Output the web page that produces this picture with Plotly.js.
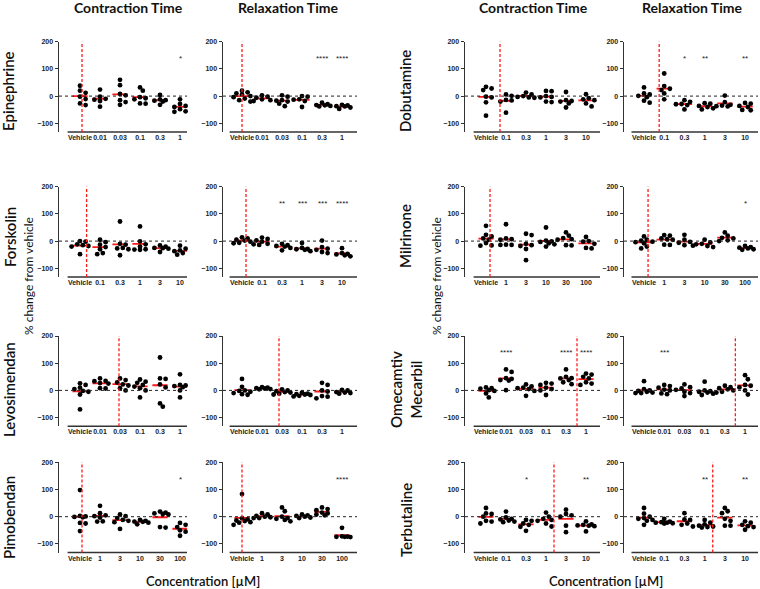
<!DOCTYPE html>
<html><head><meta charset="utf-8">
<script src="https://cdn.plot.ly/plotly-3.0.1.min.js"></script>
<style>html,body{margin:0;padding:0;background:#fff;}#chart{width:760px;height:589px;}</style>
</head><body><div id="chart"></div>
<script>
// ---------- categories (concentration, µM) ----------
const epiConc = ['Vehicle','0.01','0.03','0.1','0.3','1'];
const forConc = ['Vehicle','0.1','0.3','1','3','10'];
const levConc = ['Vehicle','0.01','0.03','0.1','0.3','1'];
const pimConc = ['Vehicle','1','3','10','30','100'];
const dobConc = ['Vehicle','0.1','0.3','1','3','10'];
const milConc = ['Vehicle','1','3','10','30','100'];
const omeConc = ['Vehicle','0.01','0.03','0.1','0.3','1'];
const terConc = ['Vehicle','0.1','0.3','1','3','10'];

// ---------- % change from vehicle, per concentration ----------
const epiCT = [[38,20,12,-2,-11,-27,-33],[24,-2,-10,-13,-18,-39],[60,40,8,3,-15,-22,-32],[32,20,-4,-8,-12,-27,-28],[4,-12,-15,-17,-20,-32],[-12,-29,-36,-40,-48,-56,-58]];
const epiRT = [[20,14,10,6,0,-4,-9,-15,-20],[3,-2,-6,-12,-15,-18],[3,-2,-15,-17,-20,-28,-37],[0,-2,-12,-13,-18,-40],[-24,-30,-33,-34,-36,-38],[-32,-34,-37,-38,-42,-47]];
const forCT = [[0,-2,-12,-15,-18,-20,-48],[5,-4,-13,-22,-30,-44,-48],[72,-10,-13,-25,-27,-30,-52],[54,-1,-12,-20,-30,-31,-32],[-16,-20,-25,-26,-28,-40],[-17,-28,-34,-37,-40,-44,-50]];
const forRT = [[14,10,5,2,-2,-6,-8],[13,8,3,-2,-10,-12,-14],[-10,-15,-18,-20,-25,-34],[-7,-25,-29,-30,-32,-37],[2,-22,-28,-32,-40,-44],[-26,-44,-47,-49,-52,-56]];
const levCT = [[26,20,10,5,-2,-5,-15,-70],[44,35,34,27,25,8,7],[44,38,29,22,18,8,0],[40,32,28,20,14,8,0,-26],[121,44,42,22,11,-48,-60],[59,20,18,16,12,0,-26]];
const levRT = [[42,13,0,-2,-5,-10,-14,-16],[12,10,8,7,5,4],[4,0,-3,-6,-8,-12,-15],[-8,-12,-14,-15,-17,-20,-22],[28,20,0,-4,-21,-23,-29],[2,0,-6,-8,-10,-12]];
const pimCT = [[98,3,1,-1,-2,-23,-25,-53],[40,13,5,2,-3,-17,-18],[8,2,-5,-12,-15,-20,-45],[-12,-15,-18,-19,-22,-28],[19,15,12,10,8,-38,-40],[-23,-30,-38,-50,-55,-70]];
const pimRT = [[83,-6,-10,-14,-16,-20,-22,-30],[13,8,3,0,-2,-5,-5],[34,20,0,-5,-8,-12,-17],[8,5,3,0,-3,-5],[34,28,24,15,12,8,5],[-41,-72,-73,-74,-74,-75]];
const dobCT = [[34,28,22,-2,-5,-23,-72],[6,1,-14,-16,-20,-61],[13,6,0,-3,-5,-6],[19,18,0,-3,-5,-20,-22],[15,-15,-18,-20,-27,-42],[7,-8,-12,-15,-27,-38]];
const dobRT = [[32,10,6,1,-4,-17,-24],[83,37,27,22,10,-12],[-15,-21,-29,-30,-33,-49],[-26,-28,-36,-40,-45,-49],[2,-22,-32,-35,-37,-38],[-25,-28,-36,-40,-51,-52]];
const milCT = [[56,23,17,10,5,-7,-16,-17],[62,10,7,5,-13,-14,-14],[27,22,-10,-15,-18,-29,-70],[50,2,-1,-3,-8,-12,-20],[32,20,11,7,5,-15,-16],[15,0,-2,-10,-25,-27]];
const milRT = [[17,5,2,-2,-4,-8,-20,-27],[22,20,10,7,5,-13,-14],[23,5,-3,-6,-15,-17],[5,-5,-10,-12,-18,-22],[32,20,12,10,3,0],[-18,-22,-24,-27,-30,-32]];
const omeCT = [[11,8,6,1,-2,-11,-26],[77,68,45,42,38,36,1],[22,15,10,8,5,-2,-20],[28,25,20,10,5,0,-17],[77,50,45,44,38,30,23],[62,58,50,44,30,25,20]];
const omeRT = [[34,5,0,-2,-5,-8,-10,-10],[20,16,10,3,0,-11,-14],[22,12,7,2,-5,-10,-21],[32,0,-3,-5,-8,-12,-17],[17,12,8,4,0,-5,-8],[56,41,20,17,11,0,-15]];
const terCT = [[32,12,10,0,-15,-18,-25],[19,-3,-8,-10,-14,-18,-20],[-12,-15,-25,-30,-37,-52],[15,0,-8,-12,-15,-25,-36],[26,10,5,0,-33,-57],[-17,-28,-30,-32,-33,-35,-54]];
const terRT = [[32,11,0,-5,-8,-12,-15,-30],[-8,-18,-20,-22,-22,-24,-25],[13,-10,-12,-25,-30,-36],[-12,-22,-28,-33,-36,-38,-40],[32,20,13,-8,-15,-33,-33],[-17,-22,-30,-35,-38,-48]];

// ---------- significance marks ----------
const epiCTsig = ['','','','','','*'];
const epiRTsig = ['','','','','****','****'];
const forCTsig = ['','','','','',''];
const forRTsig = ['','','**','***','***','****'];
const levCTsig = ['','','','','',''];
const levRTsig = ['','','','','',''];
const pimCTsig = ['','','','','','*'];
const pimRTsig = ['','','','','','****'];
const dobCTsig = ['','','','','',''];
const dobRTsig = ['','','*','**','','**'];
const milCTsig = ['','','','','',''];
const milRTsig = ['','','','','','*'];
const omeCTsig = ['','****','','','****','****'];
const omeRTsig = ['','***','','','',''];
const terCTsig = ['','','*','','','**'];
const terRTsig = ['','','','**','','**'];

// ---------- red dashed marker position (in category units) [CT, RT] ----------
const epiCut = [0.1, 0.0];
const forCut = [0.33, 0.2];
const levCut = [1.95, 1.85];
const pimCut = [0.1, 0.0];
const dobCut = [0.7, 0.75];
const milCut = [0.2, 0.2];
const omeCut = [4.55, 4.52];
const terCut = [3.4, 3.4];

const drugs = [
  {name:'Epinephrine', conc:epiConc, ct:epiCT, rt:epiRT, sct:epiCTsig, srt:epiRTsig, cut:epiCut, side:0, row:0},
  {name:'Forskolin', conc:forConc, ct:forCT, rt:forRT, sct:forCTsig, srt:forRTsig, cut:forCut, side:0, row:1},
  {name:'Levosimendan', conc:levConc, ct:levCT, rt:levRT, sct:levCTsig, srt:levRTsig, cut:levCut, side:0, row:2},
  {name:'Pimobendan', conc:pimConc, ct:pimCT, rt:pimRT, sct:pimCTsig, srt:pimRTsig, cut:pimCut, side:0, row:3},
  {name:'Dobutamine', conc:dobConc, ct:dobCT, rt:dobRT, sct:dobCTsig, srt:dobRTsig, cut:dobCut, side:1, row:0},
  {name:'Milrinone', conc:milConc, ct:milCT, rt:milRT, sct:milCTsig, srt:milRTsig, cut:milCut, side:1, row:1},
  {name:'Omecamtiv<br>Mecarbil', conc:omeConc, ct:omeCT, rt:omeRT, sct:omeCTsig, srt:omeRTsig, cut:omeCut, side:1, row:2},
  {name:'Terbutaline', conc:terConc, ct:terCT, rt:terRT, sct:terCTsig, srt:terRTsig, cut:terCut, side:1, row:3}
];

// ---------- geometry ----------
const W = 760, H = 589;
const cols = [
  {x0:59, x1:187, r:[-1.05,5.35]},
  {x0:223, x1:357, r:[-0.95,5.75]},
  {x0:465, x1:600, r:[-1.05,5.7]},
  {x0:624, x1:758, r:[-0.99,5.64]}
];
const rows = [
  {top:41.7, bot:132},
  {top:186.7, bot:277},
  {top:336, bot:426.3},
  {top:462.3, bot:552.6}
];
const yRange = [-132, 200];
const RED = '#ff1a1a';
const tickFont = {family:'Liberation Sans, Arial', size:7, weight:'bold', color:'#222'};
const bigFont = {family:'Lato, Open Sans', size:14, weight:'bold', color:'#111'};

// compact deterministic swarm offsets (category units)
function swarm(vals, pxY, pxX) {
  const order = vals.map((v,i)=>i).sort((a,b)=>vals[b]-vals[a]);
  const placed = []; const offs = new Array(vals.length).fill(0);
  const cands = [0, 0.14, -0.14, 0.28, -0.28, 0.42, -0.42];
  order.forEach(idx=>{
    let best = 0, bestD = -1;
    for (const o of cands) {
      let minD = Infinity;
      for (const p of placed) {
        const dx = (o-p.o)*pxX, dy = (vals[idx]-p.v)*pxY;
        minD = Math.min(minD, dx*dx+dy*dy);
      }
      if (minD >= 17) { best = o; bestD = minD; break; }
      if (minD > bestD) { bestD = minD; best = o; }
    }
    offs[idx]=best; placed.push({o:best, v:vals[idx]});
  });
  return offs;
}

const traces = [], shapes = [], annotations = [];
const layout = {
  width:W, height:H, margin:{l:0,r:0,t:0,b:0},
  paper_bgcolor:'#fff', plot_bgcolor:'rgba(0,0,0,0)', showlegend:false
};

drugs.forEach(d=>{
  [0,1].forEach(m=>{
    const c = d.side*2 + m;
    const col = cols[c], row = rows[d.row];
    const n = d.row*4 + c + 1;
    const xs = n===1 ? '' : String(n);
    const data = m===0 ? d.ct : d.rt;
    const sig = m===0 ? d.sct : d.srt;
    const pxY = (row.bot-row.top)/(yRange[1]-yRange[0]);
    const pxX = (col.x1-col.x0)/(col.r[1]-col.r[0]);

    layout['xaxis'+xs] = {
      domain:[col.x0/W, col.x1/W], range:col.r, anchor:'y'+xs,
      tickmode:'array', tickvals:d.conc.map((_,i)=>i), ticktext:d.conc, tickangle:0,
      ticks:'', showline:false, showgrid:false, zeroline:false,
      tickfont:tickFont, fixedrange:true
    };
    layout['yaxis'+xs] = {
      domain:[1-row.bot/H, 1-row.top/H], range:yRange, anchor:'x'+xs,
      tickmode:'array', tickvals:[-100,0,100,200],
      ticks:'outside', ticklen:3, tickwidth:1, tickcolor:'#333',
      showline:true, linecolor:'#333', linewidth:1.5,
      showgrid:false, zeroline:false, tickfont:tickFont, fixedrange:true
    };

    shapes.push({type:'line', xref:'x'+xs+' domain', yref:'y'+xs, x0:0, x1:1, y0:0, y1:0,
      line:{color:'#222', width:1, dash:'dot'}});
    shapes.push({type:'line', xref:'x'+xs, yref:'y'+xs+' domain', x0:-0.62, x1:col.r[1], y0:0, y1:0,
      line:{color:'#333', width:1.5}});
    shapes.push({type:'line', xref:'x'+xs, yref:'y'+xs+' domain', x0:d.cut[m], x1:d.cut[m], y0:0, y1:1,
      line:{color:RED, width:1.3, dash:'3px,2px'}});

    const px = [], py = [], mx = [], my = [];
    data.forEach((vals,i)=>{
      const offs = swarm(vals, pxY, pxX);
      vals.forEach((v,j)=>{ px.push(i+offs[j]); py.push(v); });
      const mean = vals.reduce((a,b)=>a+b,0)/vals.length;
      mx.push(i-0.38, i+0.38, null); my.push(mean, mean, null);
      if (sig[i]) annotations.push({xref:'x'+xs, yref:'y'+xs, x:i, y:138, text:sig[i],
        showarrow:false, font:{family:'Liberation Sans, Arial', size:8, color:'#222'}});
    });
    traces.push({type:'scatter', mode:'lines', x:mx, y:my, xaxis:'x'+xs, yaxis:'y'+xs,
      line:{color:RED, width:1.8}, hoverinfo:'skip', cliponaxis:false});
    traces.push({type:'scatter', mode:'markers', x:px, y:py, xaxis:'x'+xs, yaxis:'y'+xs,
      marker:{color:'#000', size:4.8}, cliponaxis:false});
  });
});

const colTitles = [['Contraction Time',128],['Relaxation Time',288],['Contraction Time',533],['Relaxation Time',692]];
colTitles.forEach(t=>annotations.push({xref:'paper', yref:'paper', x:t[1]/W, y:1-7/H, text:t[0],
  showarrow:false, xanchor:'center', yanchor:'middle', font:bigFont}));

const rowLabelPos = [[8,91],[10,237],[9,390],[9,518],[405,91],[405,236],[406,390],[406,520]];
drugs.forEach((d,k)=>annotations.push({xref:'paper', yref:'paper', x:rowLabelPos[k][0]/W, y:1-rowLabelPos[k][1]/H,
  text:d.name, textangle:-90, showarrow:false, xanchor:'center', yanchor:'middle',
  font:{family:'Lato, Open Sans', size:15, weight:600, color:'#111'}}));

[[28,276],[436,276]].forEach(p=>annotations.push({xref:'paper', yref:'paper', x:p[0]/W, y:1-p[1]/H,
  text:'% change from vehicle', textangle:-90, showarrow:false, xanchor:'center', yanchor:'middle',
  font:{family:'Lato, Open Sans', size:12, color:'#111'}}));
[[203,581],[606,581]].forEach(p=>annotations.push({xref:'paper', yref:'paper', x:p[0]/W, y:1-p[1]/H,
  text:'Concentration [µM]', showarrow:false, xanchor:'center', yanchor:'middle',
  font:{family:'Lato, Open Sans', size:13, weight:600, color:'#111'}}));

layout.shapes = shapes;
layout.annotations = annotations;
Plotly.newPlot('chart', traces, layout, {staticPlot:true, displayModeBar:false});
</script>
</body></html>
